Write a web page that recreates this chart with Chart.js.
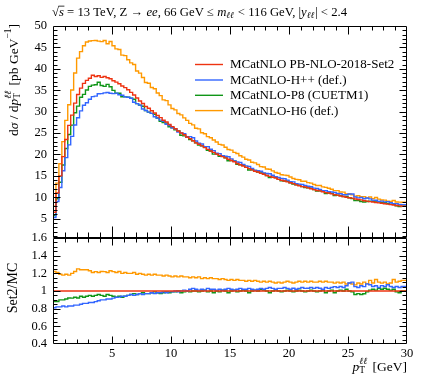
<!DOCTYPE html>
<html><head><meta charset="utf-8">
<script src="https://cdn.jsdelivr.net/npm/chart.js@4/dist/chart.umd.min.js"></script>
<style>
html,body{margin:0;padding:0;background:#fff;}
#wrap{position:relative;width:421px;height:380px;overflow:hidden;}
canvas{position:absolute;left:0;top:0;}
</style></head><body>
<div id="wrap"><canvas id="cTop" width="421" height="380"></canvas><canvas id="cBot" width="421" height="380"></canvas></div>
<script>
// ---------- data ----------
const binWidth = 0.25;          // GeV, bins from 0 to 30
const xRange = [0, 30];
const seriesNames = ["MCatNLO PB-NLO-2018-Set2", "MCatNLO-H++ (def.)", "MCatNLO-P8 (CUETM1)", "MCatNLO-H6 (def.)"];
const seriesColors = ["#EE3311", "#3366FF", "#109618", "#FF9900"];

// dsigma/dpT [pb/GeV], one value per 0.25 GeV bin
const set2 = [2.0,6.5,11.0,15.0,19.5,23.5,26.8,29.2,32.0,34.0,35.5,36.6,37.3,37.8,38.5,38.2,38.4,38.0,38.2,37.9,
37.7,37.2,36.9,36.5,36.0,35.6,35.1,34.5,33.9,33.2,32.5,31.9,31.2,30.8,30.2,29.7,29.1,28.6,28.0,27.6,
27.0,26.5,26.0,25.5,25.0,24.6,24.1,23.7,23.2,22.7,22.4,22.0,21.6,21.2,20.8,20.5,20.1,19.8,19.5,19.2,
18.9,18.6,18.3,17.9,17.6,17.3,17.0,16.7,16.4,16.1,15.9,15.6,15.4,15.1,14.9,14.7,14.5,14.2,14.0,13.8,
13.6,13.4,13.2,12.9,12.7,12.5,12.4,12.2,12.0,11.8,11.6,11.5,11.3,11.1,11.0,10.8,10.6,10.5,10.3,10.2,
10.0,9.9,9.8,9.6,9.5,9.4,9.2,9.1,9.0,8.9,8.8,8.7,8.6,8.5,8.4,8.3,8.2,8.1,8.0,7.9];
const herwigpp = [1.50,5.27,9.02,12.30,16.19,19.27,22.24,24.24,26.88,28.56,30.18,31.48,32.08,32.89,33.50,33.62,34.18,34.20,34.38,34.49,
34.31,34.22,34.32,33.95,33.84,33.46,33.35,33.12,32.21,31.87,31.53,30.62,30.26,29.88,29.60,28.81,28.52,28.03,27.72,27.05,
26.73,26.24,26.00,25.25,25.00,24.85,24.10,24.17,23.90,23.15,22.62,22.44,21.82,21.84,21.22,20.91,20.30,20.20,19.70,19.58,
19.47,18.97,18.48,18.26,18.13,17.65,17.34,17.20,16.73,16.26,16.22,16.07,15.71,15.55,15.50,15.14,14.79,14.63,14.42,14.35,
14.01,13.67,13.60,13.16,13.08,13.00,12.77,12.57,12.48,12.15,12.06,11.85,11.53,11.54,11.33,11.23,11.13,10.92,10.82,10.61,
10.60,10.79,10.78,10.08,9.88,9.96,9.66,9.83,9.63,9.35,9.33,9.05,9.12,8.93,8.99,8.72,8.53,8.51,8.32,8.30];
const pythia8 = [1.72,5.72,9.68,13.50,17.55,21.39,24.66,26.86,29.76,31.28,33.37,34.04,35.06,35.91,36.19,36.29,36.86,36.10,35.91,36.38,
35.82,34.97,34.32,34.31,33.48,33.46,33.35,33.12,32.88,31.87,31.53,31.26,30.26,29.88,29.60,29.40,28.52,27.74,27.44,27.32,
26.46,26.24,25.74,25.50,24.50,24.35,24.10,23.46,23.20,22.70,22.18,22.00,21.82,20.99,20.80,20.09,20.10,19.60,19.70,19.20,
18.52,18.60,18.48,17.72,17.60,17.47,17.00,16.37,16.40,16.26,15.90,15.91,15.55,15.10,14.60,14.70,14.65,14.20,13.86,13.80,
13.74,13.40,13.07,12.90,12.83,12.50,12.28,12.20,12.12,11.80,11.48,11.50,11.41,10.88,11.00,10.91,10.39,10.50,10.40,10.20,
10.20,9.90,9.70,9.22,9.22,9.02,8.92,9.01,9.09,9.08,8.89,8.96,8.77,8.76,8.57,8.38,8.36,8.02,7.84,7.90];
const herwig6 = [2.76,7.93,13.31,17.85,23.01,27.97,31.62,35.04,39.04,42.50,44.02,45.38,46.25,46.49,46.59,46.60,46.46,46.36,46.60,45.86,
46.37,45.38,44.65,44.53,43.20,43.08,42.12,41.40,41.02,39.51,39.00,37.96,36.82,36.65,35.64,35.34,34.34,33.75,32.76,32.57,
31.59,30.74,30.42,29.58,29.25,28.54,27.96,27.26,26.91,26.11,25.98,25.08,24.84,24.17,23.92,23.37,22.91,22.37,22.23,21.70,
21.17,21.02,20.50,20.23,19.71,19.38,18.87,18.70,18.20,18.03,17.65,17.16,17.09,16.61,16.54,16.17,15.81,15.62,15.26,15.18,
15.10,14.74,14.39,14.19,14.10,13.75,13.76,13.42,13.32,12.98,12.76,12.77,12.43,12.32,12.10,11.88,11.55,11.55,11.23,11.22,
10.80,10.79,10.58,10.27,10.36,10.15,10.12,9.83,10.08,9.70,9.94,9.57,9.37,9.35,9.07,9.05,9.27,8.91,8.88,8.85];

// tick labels
const xTickLabels = [5, 10, 15, 20, 25, 30];
const yTickLabelsTop = [5, 10, 15, 20, 25, 30, 35, 40, 45, 50];
const yTickLabelsRatio = [0.4, 0.6, 0.8, 1, 1.2, 1.4, 1.6];

// ---------- helpers ----------
const FONT = "'Liberation Serif', 'DejaVu Serif', serif";
Chart.defaults.font.family = FONT;
Chart.defaults.font.size = 12;
Chart.defaults.color = "#000";

const allSeries = [set2, herwigpp, pythia8, herwig6];
function toSteps(vals) {
  const pts = vals.map((v, i) => ({x: xRange[0] + i * binWidth, y: v}));
  pts.push({x: xRange[0] + vals.length * binWidth, y: vals[vals.length - 1]});
  return pts;
}
const ratios = allSeries.map(s => s.map((v, i) => v / set2[i]));

function drawRich(ctx, segs, size) {
  let x = 0, pendingStack = null;
  const items = [];
  for (const s of segs) {
    const sz = (s.sub || s.sup) ? size * 0.7 : size;
    const font = (s.it ? "italic " : "") + sz + "px " + FONT;
    ctx.font = font;
    const w = ctx.measureText(s.t).width;
    const dy = s.sub ? size * 0.28 : (s.sup ? -size * 0.38 : 0);
    let sx = x;
    if (pendingStack !== null) { sx = pendingStack.x; }
    items.push({t: s.t, font, x: sx, dy, w, over: s.over});
    if (s.stack) { pendingStack = {x: sx, w}; x = sx + w; }
    else if (pendingStack !== null) { x = sx + Math.max(w, pendingStack.w) + (s.gap || 0); pendingStack = null; }
    else { x = sx + w + (s.gap || 0); }
  }
  return {width: x, items};
}
function renderRich(ctx, segs, size, x0, y0, align, rot) {
  ctx.save();
  ctx.translate(x0, y0);
  if (rot) ctx.rotate(rot);
  const r = drawRich(ctx, segs, size);
  let off = 0;
  if (align === "right") off = -r.width;
  else if (align === "center") off = -r.width / 2;
  ctx.fillStyle = "#000";
  ctx.textBaseline = "middle";
  ctx.textAlign = "left";
  for (const it of r.items) {
    ctx.font = it.font;
    ctx.fillText(it.t, off + it.x, it.dy);
    if (it.over) {
      ctx.strokeStyle = "#000"; ctx.lineWidth = 0.8;
      ctx.beginPath(); ctx.moveTo(off + it.x - 0.5, -size * 0.5); ctx.lineTo(off + it.x + it.w + 0.5, -size * 0.5); ctx.stroke();
    }
  }
  ctx.restore();
}

function framePlugin(cfg) {
  return {
    id: "frameTicks",
    afterDatasetsDraw(chart) {
      const ctx = chart.ctx, a = chart.chartArea, xs = chart.scales.x, ys = chart.scales.y;
      ctx.save();
      ctx.strokeStyle = "#000"; ctx.lineWidth = 1;
      const L = Math.round(a.left) + 0.5, R = Math.round(a.right) - 0.5, T = Math.round(a.top) + 0.5, B = Math.round(a.bottom) - 0.5;
      ctx.beginPath(); ctx.rect(L, T, R - L, B - T); ctx.stroke();
      ctx.beginPath();
      for (let v = xRange[0] + 1; v < xRange[1]; v += 1) {
        const px = Math.round(xs.getPixelForValue(v)) + 0.5;
        const major = v % 5 === 0;
        const lb = major ? cfg.xMajB : cfg.xMinB, lt = major ? cfg.xMajT : cfg.xMinT;
        ctx.moveTo(px, B); ctx.lineTo(px, B - lb);
        ctx.moveTo(px, T); ctx.lineTo(px, T + lt);
      }
      for (let k = Math.ceil(ys.min / cfg.yMinor - 1e-6); k * cfg.yMinor <= ys.max + 1e-9; k++) {
        const v = k * cfg.yMinor;
        const py = Math.round(ys.getPixelForValue(v)) + 0.5;
        if (py <= T + 0.1 || py >= B - 0.1) continue;
        const major = Math.abs(v / cfg.yMajor - Math.round(v / cfg.yMajor)) < 1e-6;
        const l = major ? cfg.yMaj : cfg.yMin;
        ctx.moveTo(L, py); ctx.lineTo(L + l, py);
        ctx.moveTo(R, py); ctx.lineTo(R - l, py);
      }
      ctx.stroke();
      ctx.restore();
    }
  };
}

const legendPlugin = {
  id: "legendBox",
  afterDatasetsDraw(chart) {
    const ctx = chart.ctx;
    ctx.save();
    const rowY = [64.5, 80, 95.3, 110.6];
    seriesNames.forEach((n, i) => {
      ctx.strokeStyle = seriesColors[i]; ctx.lineWidth = 1.4;
      ctx.beginPath(); ctx.moveTo(195, rowY[i]); ctx.lineTo(223, rowY[i]); ctx.stroke();
      ctx.fillStyle = "#000"; ctx.font = "13px " + FONT; ctx.textBaseline = "middle"; ctx.textAlign = "left";
      ctx.fillText(n, 230, rowY[i] + 0.5);
    });
    ctx.restore();
  }
};

const titlesTop = {
  id: "titlesTop",
  afterDraw(chart) {
    const ctx = chart.ctx;
    renderRich(ctx, [
      {t: "\u221A"}, {t: "s", it: true, over: true}, {t: " = 13 TeV, Z \u2192 "}, {t: "ee", it: true},
      {t: ", 66 GeV \u2264 "}, {t: "m", it: true}, {t: "\u2113\u2113", it: true, sub: true, gap: 1},
      {t: " < 116 GeV, |"}, {t: "y", it: true}, {t: "\u2113\u2113", it: true, sub: true, gap: 1}, {t: "| < 2.4"}
    ], 12.7, 52, 12.5, "left");
    renderRich(ctx, [
      {t: "d"}, {t: "\u03C3", it: true}, {t: " / d"}, {t: "p", it: true},
      {t: "T", sub: true, stack: true}, {t: "\u2113\u2113", it: true, sup: true, gap: 2},
      {t: " [pb GeV"}, {t: "\u22121", sup: true}, {t: "]"}
    ], 13.5, 14, 24, "right", -Math.PI / 2);
  }
};
const titlesBot = {
  id: "titlesBot",
  afterDraw(chart) {
    const ctx = chart.ctx;
    renderRich(ctx, [{t: "Set2/MC"}], 14, 13.5, 288, "center", -Math.PI / 2);
    renderRich(ctx, [
      {t: "p", it: true}, {t: "T", sub: true, stack: true}, {t: "\u2113\u2113", it: true, sup: true, gap: 2},
      {t: " [GeV]"}
    ], 13.5, 407, 367, "right");
  }
};

function mkDatasets(list) {
  return list.map((vals, i) => ({
    label: seriesNames[i], data: toSteps(vals), borderColor: seriesColors[i],
    borderWidth: 1.4, pointRadius: 0, stepped: "after", fill: false, order: i
  }));
}

// ---------- top panel ----------
new Chart(document.getElementById("cTop"), {
  type: "line",
  data: {datasets: mkDatasets(allSeries)},
  options: {
    responsive: false, animation: false, devicePixelRatio: 1,
    layout: {padding: {left: 0, top: 26, right: 14, bottom: 142}},
    plugins: {legend: {display: false}, tooltip: {enabled: false}},
    scales: {
      x: {type: "linear", min: xRange[0], max: xRange[1], display: false},
      y: {
        type: "linear", min: 0.5, max: 50,
        grid: {display: false, drawTicks: false}, border: {display: false},
        afterBuildTicks: s => { s.ticks = yTickLabelsTop.map(v => ({value: v})); },
        ticks: {padding: 6, font: {size: 12.5}, autoSkip: false, callback: v => String(v)},
        afterFit: s => { s.width = 53; }
      }
    }
  },
  plugins: [framePlugin({xMajB: 11, xMinB: 5, xMajT: 8, xMinT: 4, yMajor: 5, yMinor: 1, yMaj: 7, yMin: 4}), legendPlugin, titlesTop]
});

// ---------- ratio panel ----------
new Chart(document.getElementById("cBot"), {
  type: "line",
  data: {datasets: mkDatasets(ratios)},
  options: {
    responsive: false, animation: false, devicePixelRatio: 1,
    layout: {padding: {left: 0, top: 238, right: 14, bottom: 0}},
    plugins: {legend: {display: false}, tooltip: {enabled: false}},
    scales: {
      x: {
        type: "linear", min: xRange[0], max: xRange[1],
        grid: {display: false, drawTicks: false}, border: {display: false},
        afterBuildTicks: s => { s.ticks = xTickLabels.map(v => ({value: v})); },
        ticks: {padding: 2, font: {size: 12.5}, maxRotation: 0, autoSkip: false, callback: v => String(v)},
        afterFit: s => { s.height = 36; }
      },
      y: {
        type: "linear", min: 0.4, max: 1.6,
        grid: {display: false, drawTicks: false}, border: {display: false},
        afterBuildTicks: s => { s.ticks = yTickLabelsRatio.map(v => ({value: v})); },
        ticks: {padding: 6, font: {size: 12.5}, autoSkip: false, callback: v => String(Math.round(v * 10) / 10)},
        afterFit: s => { s.width = 53; }
      }
    }
  },
  plugins: [framePlugin({xMajB: 7, xMinB: 4, xMajT: 7, xMinT: 4, yMajor: 0.2, yMinor: 0.05, yMaj: 7, yMin: 4}), titlesBot]
});
</script>
</body></html>
